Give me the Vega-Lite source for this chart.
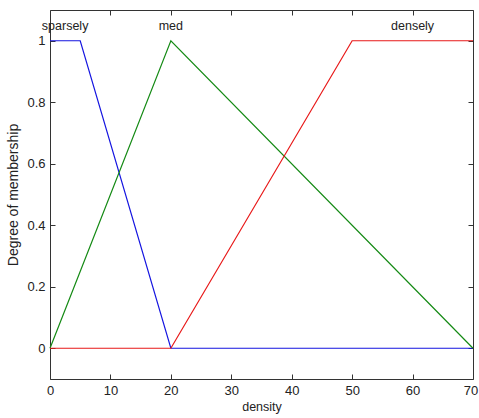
{
  "$schema": "https://vega.github.io/schema/vega-lite/v6.json",
  "autosize": {"type": "none"},
  "padding": {"left": 50, "top": 10, "right": 6, "bottom": 39},
  "width": 423,
  "height": 369,
  "background": "white",
  "config": {
    "view": {"stroke": "#333333", "strokeWidth": 1},
    "axis": {
      "domain": false,
      "grid": false,
      "ticks": true,
      "tickColor": "#333333",
      "tickWidth": 1,
      "labelFont": "Liberation Sans",
      "labelFontSize": 13,
      "labelColor": "#222222",
      "labelFlush": false,
      "titleFont": "Liberation Sans",
      "titleFontSize": 12.5,
      "titleFontWeight": "normal",
      "titleColor": "#222222"
    }
  },
  "datasets": {
    "mfs": [
      {"mf": "sparsely", "x": 0, "y": 1},
      {"mf": "sparsely", "x": 5, "y": 1},
      {"mf": "sparsely", "x": 20, "y": 0},
      {"mf": "sparsely", "x": 70, "y": 0},
      {"mf": "med", "x": 0, "y": 0},
      {"mf": "med", "x": 20, "y": 1},
      {"mf": "med", "x": 70, "y": 0},
      {"mf": "densely", "x": 0, "y": 0},
      {"mf": "densely", "x": 20, "y": 0},
      {"mf": "densely", "x": 50, "y": 1},
      {"mf": "densely", "x": 70, "y": 1}
    ],
    "labels": [
      {"mf": "sparsely", "x": 2.5, "y": 1},
      {"mf": "med", "x": 20, "y": 1},
      {"mf": "densely", "x": 60, "y": 1}
    ]
  },
  "resolve": {"axis": {"x": "independent", "y": "independent"}},
  "layer": [
    {
      "data": {"name": "mfs"},
      "mark": {"type": "line", "strokeWidth": 1.2},
      "encoding": {
        "x": {
          "field": "x", "type": "quantitative",
          "scale": {"domain": [0, 70], "nice": false, "zero": false},
          "axis": {
            "values": [0, 10, 20, 30, 40, 50, 60, 70],
            "title": "density",
            "tickSize": -5,
            "labelPadding": 10,
            "titlePadding": 3,
            "labelOffset": {"condition": {"test": "datum.value == 70", "value": -2.5}, "value": 0}
          }
        },
        "y": {
          "field": "y", "type": "quantitative",
          "scale": {"domain": [-0.1, 1.1], "nice": false, "zero": false},
          "axis": {"values": [0, 0.2, 0.4, 0.6, 0.8, 1], "format": "~g", "title": "Degree of membership", "titleFontSize": 14, "tickSize": -5, "labelPadding": 10, "titlePadding": 6}
        },
        "color": {
          "field": "mf", "type": "nominal",
          "scale": {"domain": ["densely", "med", "sparsely"], "range": ["#e81818", "#148a14", "#1414e0"]},
          "legend": null
        },
        "order": {"field": "x", "type": "quantitative"}
      }
    },
    {
      "data": {"name": "labels"},
      "mark": {"type": "text", "baseline": "alphabetic", "dy": -11, "font": "Liberation Sans", "fontSize": 12.5, "color": "#222222"},
      "encoding": {
        "x": {"field": "x", "type": "quantitative",
          "axis": {"orient": "top", "values": [0, 10, 20, 30, 40, 50, 60, 70], "labels": false, "title": null, "tickSize": -5}},
        "y": {"field": "y", "type": "quantitative",
          "axis": {"orient": "right", "values": [0, 0.2, 0.4, 0.6, 0.8, 1], "labels": false, "title": null, "tickSize": -5}},
        "text": {"field": "mf"}
      }
    }
  ]
}
